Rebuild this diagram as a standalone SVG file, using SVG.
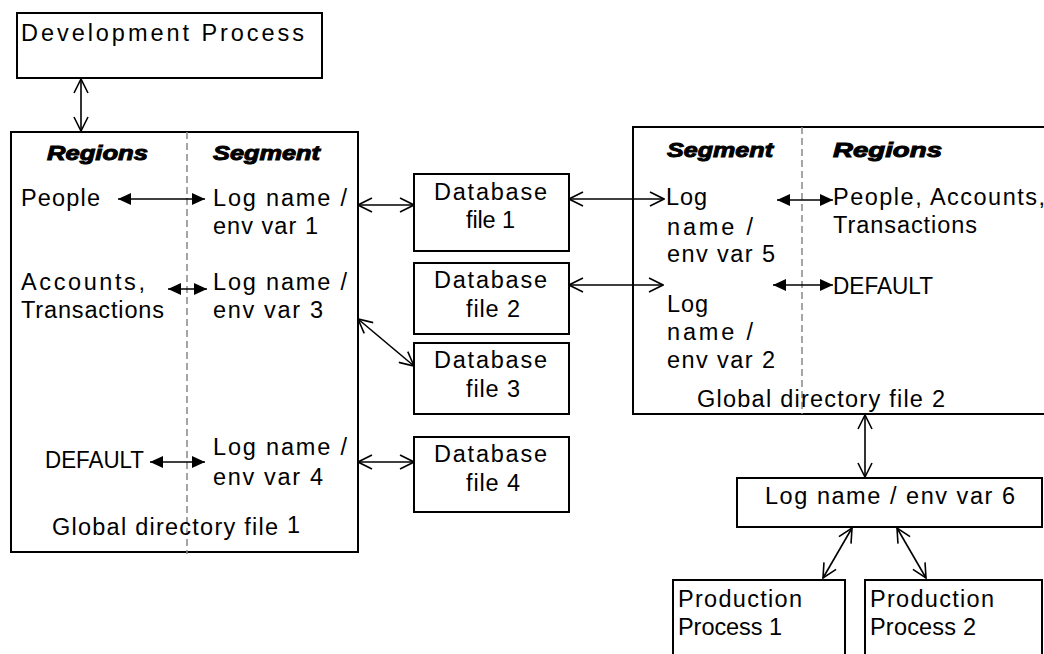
<svg xmlns="http://www.w3.org/2000/svg" width="1044" height="654" viewBox="0 0 1044 654">
<style>
.box{fill:#fff;stroke:#000;stroke-width:2}
.t{font-family:"Liberation Sans",Arial,sans-serif;font-size:23.5px;fill:#000}
.h{font-family:"Liberation Sans",Arial,sans-serif;font-size:21px;font-weight:900;font-style:italic;fill:#000;stroke:#000;stroke-width:1}
.dash{stroke:#888;stroke-width:1.5;stroke-dasharray:7,4;fill:none}
.oa{stroke:#000;stroke-width:1.6;fill:none;marker-start:url(#o);marker-end:url(#o)}
.fa{stroke:#000;stroke-width:1.6;fill:none;marker-start:url(#f);marker-end:url(#f)}
</style>
<defs>
<marker id="o" viewBox="0 0 16 16" refX="15" refY="8" markerWidth="16" markerHeight="16" markerUnits="userSpaceOnUse" orient="auto-start-reverse">
<path d="M1,1 L15,8 L1,15" fill="none" stroke="#000" stroke-width="1.6"/>
</marker>
<marker id="f" viewBox="0 0 14 12" refX="13" refY="6" markerWidth="14" markerHeight="12" markerUnits="userSpaceOnUse" orient="auto-start-reverse">
<path d="M0,0 L13,6 L0,12 Z" fill="#000"/>
</marker>
</defs>

<g id="dev">
<rect class="box" x="17" y="13" width="305" height="65"/>
<text class="t" x="21" y="41" font-size="24" textLength="283" lengthAdjust="spacing">Development Process</text>
</g>

<g id="gd1">
<rect class="box" x="11" y="132" width="347" height="420"/>
<line class="dash" x1="187" y1="132" x2="187" y2="554"/>
<text class="h" x="47" y="160" textLength="101" lengthAdjust="spacingAndGlyphs">Regions</text>
<text class="h" x="213" y="160" textLength="107" lengthAdjust="spacingAndGlyphs">Segment</text>
<text class="t" x="21" y="206" textLength="79" lengthAdjust="spacing">People</text>
<text class="t" x="213" y="206" textLength="134" lengthAdjust="spacing">Log name /</text>
<text class="t" x="213" y="234" textLength="105" lengthAdjust="spacing">env var 1</text>
<text class="t" x="21" y="290" textLength="124" lengthAdjust="spacing">Accounts,</text>
<text class="t" x="21" y="318" textLength="143" lengthAdjust="spacing">Transactions</text>
<text class="t" x="213" y="290" textLength="134" lengthAdjust="spacing">Log name /</text>
<text class="t" x="213" y="318" textLength="110" lengthAdjust="spacing">env var 3</text>
<text class="t" x="45" y="468" font-size="23" textLength="99" lengthAdjust="spacingAndGlyphs">DEFAULT</text>
<text class="t" x="213" y="455" textLength="134" lengthAdjust="spacing">Log name /</text>
<text class="t" x="213" y="485" textLength="110" lengthAdjust="spacing">env var 4</text>
<text class="t" x="52" y="535" textLength="226" lengthAdjust="spacing">Global directory file</text>
<text class="t" x="287" y="533" font-size="27">1</text>
</g>

<g id="db1">
<rect class="box" x="414" y="174" width="155" height="77"/>
<text class="t" x="434" y="200" textLength="113" lengthAdjust="spacing">Database</text>
<text class="t" x="466" y="228" textLength="49" lengthAdjust="spacing">file 1</text>
</g>
<g id="db2">
<rect class="box" x="414" y="263" width="155" height="71"/>
<text class="t" x="434" y="288" textLength="113" lengthAdjust="spacing">Database</text>
<text class="t" x="466" y="317" textLength="54" lengthAdjust="spacing">file 2</text>
</g>
<g id="db3">
<rect class="box" x="414" y="343" width="155" height="71"/>
<text class="t" x="434" y="368" textLength="113" lengthAdjust="spacing">Database</text>
<text class="t" x="466" y="397" textLength="54" lengthAdjust="spacing">file 3</text>
</g>
<g id="db4">
<rect class="box" x="414" y="437" width="155" height="75"/>
<text class="t" x="434" y="462" textLength="113" lengthAdjust="spacing">Database</text>
<text class="t" x="466" y="491" textLength="54" lengthAdjust="spacing">file 4</text>
</g>

<g id="gd2">
<rect class="box" x="633" y="127" width="420" height="287"/>
<line class="dash" x1="802" y1="127" x2="802" y2="414"/>
<text class="h" x="667" y="157" textLength="106" lengthAdjust="spacingAndGlyphs">Segment</text>
<text class="h" x="833" y="157" textLength="109" lengthAdjust="spacingAndGlyphs">Regions</text>
<text class="t" x="666" y="205" textLength="41" lengthAdjust="spacing">Log</text>
<text class="t" x="667" y="235" textLength="86" lengthAdjust="spacing">name /</text>
<text class="t" x="667" y="262" textLength="108" lengthAdjust="spacing">env var 5</text>
<text class="t" x="667" y="312" textLength="41" lengthAdjust="spacing">Log</text>
<text class="t" x="667" y="340" textLength="86" lengthAdjust="spacing">name /</text>
<text class="t" x="667" y="368" textLength="108" lengthAdjust="spacing">env var 2</text>
<text class="t" x="833" y="205" textLength="212" lengthAdjust="spacing">People, Accounts,</text>
<text class="t" x="833" y="233" textLength="144" lengthAdjust="spacing">Transactions</text>
<text class="t" x="833" y="294" font-size="23" textLength="100" lengthAdjust="spacingAndGlyphs">DEFAULT</text>
<text class="t" x="697" y="407" textLength="248" lengthAdjust="spacing">Global directory file 2</text>
</g>

<g id="log6">
<rect class="box" x="737" y="478" width="305" height="49"/>
<text class="t" x="765" y="504" textLength="250" lengthAdjust="spacing">Log name / env var 6</text>
</g>
<g id="prod1">
<rect class="box" x="673" y="580" width="172" height="90"/>
<text class="t" x="678" y="607" textLength="124" lengthAdjust="spacing">Production</text>
<text class="t" x="678" y="635" textLength="104" lengthAdjust="spacing">Process 1</text>
</g>
<g id="prod2">
<rect class="box" x="865" y="580" width="177" height="90"/>
<text class="t" x="870" y="607" textLength="124" lengthAdjust="spacing">Production</text>
<text class="t" x="870" y="635" textLength="106" lengthAdjust="spacing">Process 2</text>
</g>

<g id="connectors">
<line class="oa" x1="81" y1="79" x2="81" y2="131"/>
<line class="fa" x1="118" y1="199" x2="205" y2="199"/>
<line class="fa" x1="168" y1="289" x2="207" y2="289"/>
<line class="fa" x1="150" y1="462" x2="205" y2="462"/>
<line class="oa" x1="358" y1="205" x2="414" y2="205"/>
<line class="oa" x1="358" y1="319" x2="414" y2="366"/>
<line class="oa" x1="358" y1="462" x2="414" y2="462"/>
<line class="oa" x1="569" y1="199" x2="664" y2="199"/>
<line class="oa" x1="569" y1="285" x2="663" y2="285"/>
<line class="fa" x1="777" y1="200" x2="833" y2="200"/>
<line class="fa" x1="773" y1="285" x2="833" y2="285"/>
<line class="oa" x1="865" y1="415" x2="865" y2="477"/>
<line class="oa" x1="852" y1="528" x2="823" y2="578"/>
<line class="oa" x1="897" y1="528" x2="926" y2="578"/>
</g>
</svg>
